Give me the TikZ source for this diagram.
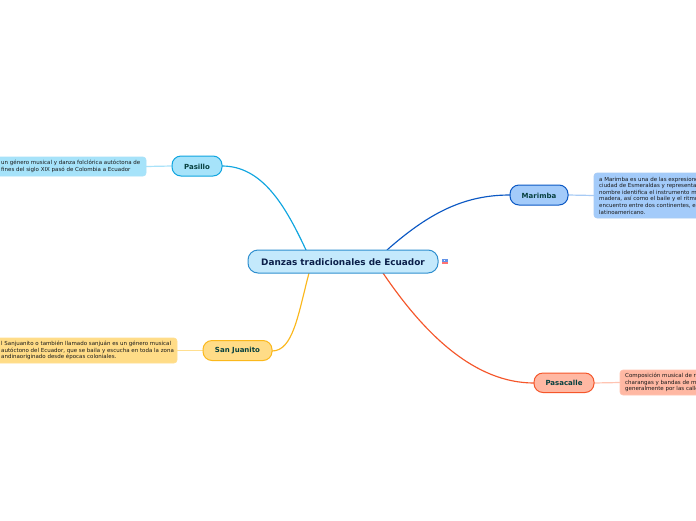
\documentclass[tikz,border=0pt]{standalone}
\usepackage{fontspec}
\setmainfont{DejaVu Sans}
\definecolor{cen}{HTML}{C4E9FC}\definecolor{cenb}{HTML}{2F8FCF}
\definecolor{pasb}{HTML}{0FA5E0}\definecolor{pasf}{HTML}{A6E3FA}\definecolor{pasl}{HTML}{A9E2F9}
\definecolor{marb}{HTML}{0B58C4}\definecolor{marf}{HTML}{A3CBFA}\definecolor{marl}{HTML}{A8CBF5}
\definecolor{sanb}{HTML}{FBB81C}\definecolor{sanf}{HTML}{FFDC87}\definecolor{sanl}{HTML}{FFDF90}
\definecolor{pacb}{HTML}{F5562A}\definecolor{pacf}{HTML}{FFB8A3}\definecolor{pacl}{HTML}{FFC4B2}
\definecolor{ink}{HTML}{0B1F4A}\definecolor{ink2}{HTML}{06403F}
\tikzset{x=1pt,y=-1pt,
 topic/.style={rounded corners=#1,line width=1pt},
 ttext/.style={font=\bfseries\fontsize{7}{8}\selectfont,text=ink2,inner sep=0pt},
 note/.style={font=\fontsize{5.5}{6.6}\selectfont,text=black!90,inner sep=0pt,align=left,anchor=west},
 link/.style={line width=1.15pt},
 sublink/.style={line width=1.2pt}}
\begin{document}
\begin{tikzpicture}
\useasboundingbox (0,0) rectangle (696,520);
\clip (0,0) rectangle (696,520);
\fill[white] (0,0) rectangle (696,520);
% named anchors
\coordinate (cpas) at (306,250);
\coordinate (cmar) at (387,250);
\coordinate (csan) at (309,273);
\coordinate (cpac) at (383,273);
\coordinate (pasE) at (222,166);
\coordinate (marW) at (510,195);
\coordinate (sanE) at (272,351);
\coordinate (pacW) at (534,383);
\coordinate (pasW) at (172,166);
\coordinate (pasN) at (146,166.5);
\coordinate (marE) at (568,195);
\coordinate (marN) at (594,195.5);
\coordinate (sanW) at (203,350.5);
\coordinate (sanN) at (177,350.5);
\coordinate (pacE) at (594,383);
\coordinate (pacN) at (620,382.5);
% connectors
\draw[link,pasb] (cpas) .. controls (285,205) and (262,166) .. (pasE);
\draw[link,marb] (cmar) .. controls (430,212) and (465,195) .. (marW);
\draw[link,sanb] (csan) .. controls (298,315) and (293,351) .. (sanE);
\draw[link,pacb] (cpac) .. controls (425,335) and (475,383) .. (pacW);
\draw[sublink,pasl] (pasW) -- (pasN);
\draw[sublink,marl] (marE) -- (marN);
\draw[sublink,sanl] (sanW) -- (sanN);
\draw[sublink,pacl] (pacE) -- (pacN);
% central
\draw[topic=10pt,draw=cenb,fill=cen] (248,250) rectangle (438,273);
\node[font=\bfseries\fontsize{8.9}{10}\selectfont,text=ink,inner sep=0pt] (central) at (343,262) {Danzas tradicionales de Ecuador};
% topics
\draw[topic=9pt,draw=pasb,fill=pasf] (172,156) rectangle (222,176);
\node[ttext] (pasillo) at (197,166.5) {Pasillo};
\draw[topic=9pt,draw=marb,fill=marf] (510,185) rectangle (568,205);
\node[ttext] (marimba) at (539,195.5) {Marimba};
\draw[topic=9pt,draw=sanb,fill=sanf] (203,340.5) rectangle (272,360.5);
\node[ttext] (sanjuanito) at (237.5,351) {San Juanito};
\draw[topic=9pt,draw=pacb,fill=pacf] (534,373) rectangle (594,392.5);
\node[ttext] (pasacalle) at (564,383) {Pasacalle};
% notes
\draw[rounded corners=3pt,draw=pasl,fill=pasf,line width=.6pt] (-10,157) rectangle (146,176);
\node[note] (n1) at (1,166.5) {un género musical y danza folclórica autóctona de\\ fines del siglo XIX pasó de Colombia a Ecuador};
\draw[rounded corners=3pt,draw=marl,fill=marf,line width=.6pt] (594,173) rectangle (710,218);
\node[note] (n2) at (599,195.5) {a Marimba es una de las expresiones\\ ciudad de Esmeraldas y representa\\ nombre identifica el instrumento m\\ madera, así como el baile y el ritmo\\ encuentro entre dos continentes, el\\ latinoamericano.};
\draw[rounded corners=3pt,draw=sanl,fill=sanf,line width=.6pt] (-10,338) rectangle (177,363);
\node[note] (n3) at (1,350.5) {l Sanjuanito o también llamado sanjuán es un género musical\\ autóctono del Ecuador, que se baila y escucha en toda la zona\\ andinaoriginado desde épocas coloniales.};
\draw[rounded corners=3pt,draw=pacl,fill=pacf,line width=.6pt] (620,370) rectangle (710,395);
\node[note] (n4) at (625,382.5) {Composición musical de r\\ charangas y bandas de m\\ generalmente por las calle};
% icon
\fill[cenb!70!blue!70] (442,259) rectangle (448,261.8);
\fill[white] (443.5,259.6) rectangle (444.6,261.2);
\fill[red!55] (442,262.4) rectangle (448,263.8);
\end{tikzpicture}
\end{document}
